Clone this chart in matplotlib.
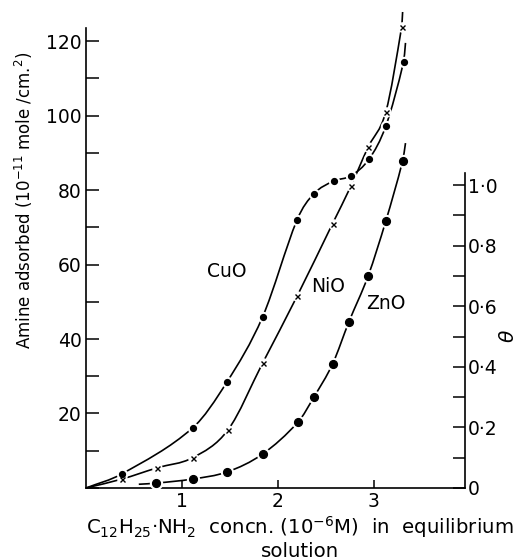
import matplotlib
matplotlib.use("Agg")
import matplotlib.pyplot as plt
import numpy as np
from matplotlib.path import Path
from matplotlib.patches import PathPatch
from matplotlib.ticker import FixedLocator, FixedFormatter, MultipleLocator

# measured points, concn. (1e-6 M) vs amine adsorbed (1e-11 mole/cm2)
cuo_x = [0.375, 1.11, 1.47, 1.84, 2.20, 2.375, 2.58, 2.76, 2.95, 3.125, 3.31]
cuo_y = [3.8, 16.1, 28.5, 45.9, 72.0, 79.0, 82.4, 83.8, 88.3, 97.2, 114.4]
cuo_ends = [(0.0, 0.0), (3.33, 119.5)]

nio_x = [0.375, 0.74, 1.11, 1.48, 1.84, 2.20, 2.57, 2.76, 2.94, 3.125, 3.29]
nio_y = [2.4, 5.4, 8.1, 15.6, 33.5, 51.5, 71.0, 81.0, 91.5, 101.0, 123.8]
nio_ends = [(0.0, 0.0), (3.30, 127.8)]

zno_x = [0.73, 1.11, 1.47, 1.84, 2.21, 2.375, 2.57, 2.74, 2.94, 3.125, 3.30]
zno_y = [1.3, 2.4, 4.3, 9.1, 17.7, 24.4, 33.3, 44.6, 56.9, 71.7, 87.8]
zno_ends = [(0.55, 1.0), (3.33, 92.6)]

y_ticks = [20, 40, 60, 80, 100, 120]
x_ticks = [1, 2, 3]
theta_ticks = [0, 0.2, 0.4, 0.6, 0.8, 1.0]
theta_labels = ["0", "0·2", "0·4", "0·6", "0·8", "1·0"]
theta_full = 81.3  # left-axis units that correspond to theta = 1

plt.rcParams["font.family"] = ["DejaVu Sans"]
FS = 13.5


def smooth_path(xs, ys):
    """Bezier path through the points, slopes from neighbouring points."""
    x = np.asarray(xs, float)
    y = np.asarray(ys, float)
    h = np.diff(x)
    d = np.diff(y) / h
    m = np.zeros_like(x)
    m[0], m[-1] = d[0], d[-1]
    for i in range(1, len(x) - 1):
        m[i] = (y[i + 1] - y[i - 1]) / (x[i + 1] - x[i - 1])
    verts = [(x[0], y[0])]
    codes = [Path.MOVETO]
    for i in range(len(x) - 1):
        verts += [
            (x[i] + h[i] / 3, y[i] + m[i] * h[i] / 3),
            (x[i + 1] - h[i] / 3, y[i + 1] - m[i + 1] * h[i] / 3),
            (x[i + 1], y[i + 1]),
        ]
        codes += [Path.CURVE4] * 3
    return Path(verts, codes)


fig = plt.figure(figsize=(5.2, 5.6), dpi=100)
ax = fig.add_axes([0.1654, 0.1286, 0.7288, 0.8214])

series = [
    (cuo_x, cuo_y, cuo_ends, "o", 4.2),
    (nio_x, nio_y, nio_ends, "x", 3.6),
    (zno_x, zno_y, zno_ends, "o", 5.6),
]
for xs, ys, ends, marker, ms in series:
    px = [ends[0][0]] + list(xs) + [ends[1][0]]
    py = [ends[0][1]] + list(ys) + [ends[1][1]]
    patch = PathPatch(smooth_path(px, py), facecolor="none", edgecolor="black",
                      linewidth=1.2, clip_on=False, zorder=2)
    ax.add_patch(patch)
    # white halo so the line looks broken at each point
    ax.plot(xs, ys, linestyle="none", marker="o", ms=ms + 3.0, color="white",
            mec="white", zorder=3, clip_on=False)
    if marker == "x":
        ax.plot(xs, ys, linestyle="none", marker="x", ms=ms, color="black",
                mew=1.0, zorder=4, clip_on=False)
    else:
        ax.plot(xs, ys, linestyle="none", marker="o", ms=ms, color="black",
                mec="black", zorder=4, clip_on=False)

ax.text(1.47, 58, "CuO", fontsize=FS, ha="center", va="center")
ax.text(2.52, 54, "NiO", fontsize=FS, ha="center", va="center")
ax.text(3.125, 49.4, "ZnO", fontsize=FS, ha="center", va="center")

ax.set_xlim(0, 3.95)
ax.set_ylim(0, 123.5)
for side in ["top", "right"]:
    ax.spines[side].set_visible(False)
for side in ["left", "bottom"]:
    ax.spines[side].set_linewidth(1.2)

ax.yaxis.set_major_locator(FixedLocator(y_ticks))
ax.yaxis.set_minor_locator(MultipleLocator(10))
ax.xaxis.set_major_locator(FixedLocator(x_ticks))
ax.tick_params(axis="y", which="both", direction="in", length=9, width=1.1,
               labelsize=FS, pad=3)
ax.tick_params(axis="x", which="major", direction="in", length=6, width=1.1,
               labelsize=FS, pad=3)

ax.set_ylabel("Amine adsorbed (10$^{-11}$ mole /cm.$^{2}$)", fontsize=12)
ax.yaxis.set_label_coords(-0.135, 0.625)

# theta axis on the right
ax2 = ax.twinx()
ax2.set_position(ax.get_position())
ax2.set_ylim(0, 123.5 / theta_full)
for side in ["top", "left", "bottom"]:
    ax2.spines[side].set_visible(False)
ax2.spines["right"].set_linewidth(1.2)
ax2.spines["right"].set_bounds(0, 1.04)
ax2.yaxis.set_major_locator(FixedLocator(theta_ticks))
ax2.yaxis.set_major_formatter(FixedFormatter(theta_labels))
ax2.yaxis.set_minor_locator(FixedLocator([0.1, 0.3, 0.5, 0.7, 0.9]))
ax2.tick_params(axis="y", which="both", direction="in", length=9, width=1.1,
                labelsize=FS, pad=2)
ax2.set_ylabel("θ", fontsize=FS + 1, style="italic", rotation=90)
ax2.yaxis.set_label_coords(1.09, 0.33)

fig.text(0.577, 0.058,
         "C$_{12}$H$_{25}$·NH$_{2}$  concn. (10$^{-6}$M)  in  equilibrium",
         fontsize=14.2, ha="center", va="center")
fig.text(0.577, 0.016, "solution", fontsize=14.2, ha="center", va="center")

fig.savefig("out.png", dpi=100)
